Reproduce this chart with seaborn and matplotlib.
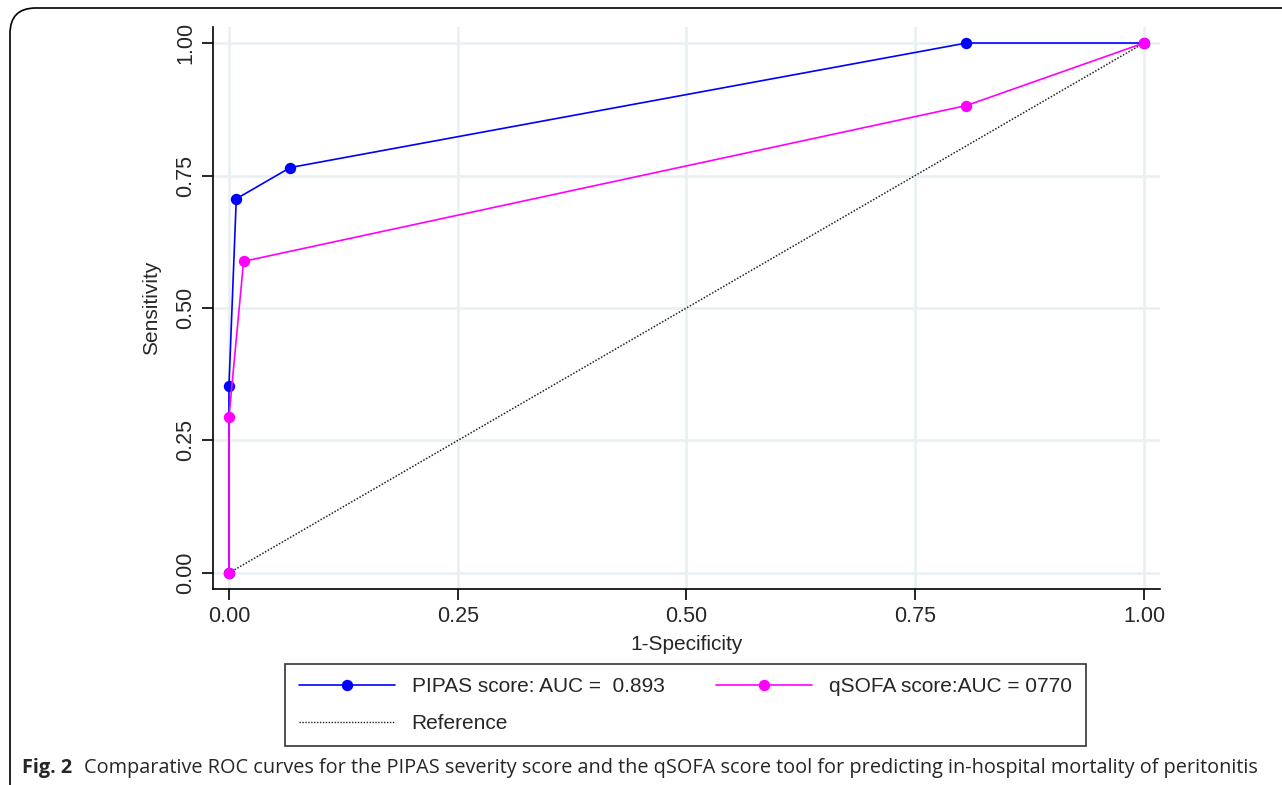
import matplotlib
matplotlib.use("Agg")
import matplotlib.pyplot as plt
import seaborn as sns
import pandas as pd
from matplotlib.patches import FancyBboxPatch
from matplotlib.lines import Line2D

# Data
pipas_fpr = [0.0, 0.0, 0.008, 0.067, 0.806, 1.0]
pipas_tpr = [0.0, 0.353, 0.706, 0.765, 1.0, 1.0]
qsofa_fpr = [0.0, 0.0, 0.016, 0.806, 1.0]
qsofa_tpr = [0.0, 0.294, 0.588, 0.882, 1.0]
ref_x = [0.0, 1.0]
ref_y = [0.0, 1.0]
ticks = [0.0, 0.25, 0.5, 0.75, 1.0]
tick_labels = ["0.00", "0.25", "0.50", "0.75", "1.00"]
label_pipas = "PIPAS score: AUC =  0.893"
label_qsofa = "qSOFA score:AUC = 0770"
label_ref = "Reference"

sns.set_style("white")
plt.rcParams['font.family'] = ['Liberation Sans', 'DejaVu Sans']

fig = plt.figure(figsize=(12.82, 7.85), dpi=100)
ax = fig.add_axes([0.1661, 0.2497, 0.9048 - 0.1661, 0.9656 - 0.2497])

df_p = pd.DataFrame({"fpr": pipas_fpr, "tpr": pipas_tpr})
df_q = pd.DataFrame({"fpr": qsofa_fpr, "tpr": qsofa_tpr})
df_r = pd.DataFrame({"x": ref_x, "y": ref_y})

ax.grid(True, color="#e8f0f2", linewidth=1.8, zorder=0)
ax.set_axisbelow(True)

dot = (0, (1, 1.1))
ms = 8.2
sns.lineplot(data=df_r, x="x", y="y", ax=ax, color="#222222", linestyle=dot,
             linewidth=1.1, sort=False, estimator=None, zorder=2)
sns.lineplot(data=df_p, x="fpr", y="tpr", ax=ax, color="#0000ff", marker="o",
             markersize=ms, markeredgewidth=0, linewidth=1.2, sort=False, estimator=None, zorder=3)
sns.lineplot(data=df_q, x="fpr", y="tpr", ax=ax, color="#ff00ff", marker="o",
             markersize=ms, markeredgewidth=0, linewidth=1.2, sort=False, estimator=None, zorder=4)

ax.set_xlim(-0.0175, 1.0175)
ax.set_ylim(-0.0302, 1.0302)
ax.set_xticks(ticks)
ax.set_xticklabels(tick_labels)
ax.set_yticks(ticks)
ax.set_yticklabels(tick_labels, rotation=90, va="center")
ax.tick_params(axis="both", direction="out", length=8, width=1.2, color="black",
               labelsize=15.5, pad=4, bottom=True, left=True)
for s in ["top", "right"]:
    ax.spines[s].set_visible(False)
for s in ["left", "bottom"]:
    ax.spines[s].set_color("black")
    ax.spines[s].set_linewidth(1.2)
ax.set_xlabel("1-Specificity", fontsize=15, labelpad=6)
ax.set_ylabel("Sensitivity", fontsize=15, labelpad=10)

handles = [
    Line2D([], [], color="#0000ff", marker="o", markersize=ms, markeredgewidth=0, linewidth=1.2),
    Line2D([], [], color="#222222", linestyle=dot, linewidth=1.0),
    Line2D([], [], color="#ff00ff", marker="o", markersize=ms, markeredgewidth=0, linewidth=1.2),
]
labels = [label_pipas, label_ref, label_qsofa]
leg = fig.legend(handles, labels, ncol=2, loc="center",
                 bbox_to_anchor=((283 + 1088) / 2 / 1282, 1 - 705 / 785),
                 fontsize=15, frameon=True, fancybox=False, edgecolor="black",
                 handlelength=4.6, columnspacing=2.5, borderpad=0.65, labelspacing=0.85,
                 handletextpad=0.8)
leg.get_frame().set_linewidth(1.2)

# outer rounded frame
frame = FancyBboxPatch((10 / 1282, -0.2), 1.2, 1.2 - 8 / 785,
                       boxstyle="round,pad=0,rounding_size=0.02",
                       transform=fig.transFigure, fill=False, edgecolor="black",
                       linewidth=1.2, mutation_aspect=1282 / 785)
fig.patches.append(frame)

fig.text(22 / 1282, 1 - 768 / 785, "Fig. 2", fontsize=14.3, fontweight="bold",
         family=["Open Sans", "DejaVu Sans"], va="center", ha="left")
fig.text(84 / 1282, 1 - 768 / 785,
         "Comparative ROC curves for the PIPAS severity score and the qSOFA score tool for predicting in-hospital mortality of peritonitis",
         fontsize=14.3, family=["Open Sans", "DejaVu Sans"], va="center", ha="left")

fig.savefig("out.png", dpi=100)
